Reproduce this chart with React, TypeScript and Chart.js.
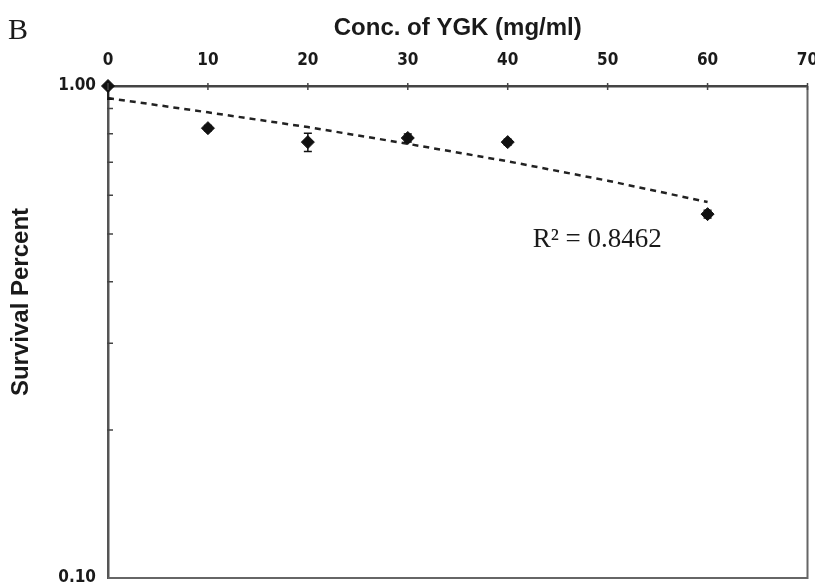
import React, { useEffect, useRef } from 'react';
import { Chart, registerables } from 'chart.js';

Chart.register(...registerables);

// ---- data ----
const concentrations = [0, 10, 20, 30, 40, 60];
const survival = [1.0, 0.821, 0.769, 0.784, 0.769, 0.549];
const survivalErr = [0.06, 0.01, 0.033, 0.015, 0.01, 0.01];
const trendX = [0, 10, 20, 30, 40, 50, 60];
const trendY = [0.945, 0.884, 0.825, 0.763, 0.703, 0.642, 0.581];
const xTickValues = [0, 10, 20, 30, 40, 50, 60, 70];
const yLabelTicks = [0.1, 1.0];
const yMinorTicks = [0.2, 0.3, 0.4, 0.5, 0.6, 0.7, 0.8, 0.9];
const panelLabel = 'B';
const xTitle = 'Conc. of YGK (mg/ml)';
const yTitle = 'Survival Percent';
const r2Label = 'R\u00B2 = 0.8462';
const r2Anchor = { x: 42.5, y: 0.47 };

const AXIS = '#444';
const TEXT = '#1a1a1a';
const TICK_FONT = '"DejaVu Sans Condensed", "Liberation Sans", sans-serif';

const decorPlugin = {
  id: 'decor',
  afterDatasetsDraw(chart: any) {
    const { ctx, chartArea, scales } = chart;
    const xs = scales.x;
    const ys = scales.y;
    ctx.save();
    ctx.beginPath();
    ctx.rect(chartArea.left - 1, chartArea.top, chartArea.right - chartArea.left + 2, chartArea.bottom - chartArea.top);
    ctx.clip();
    ctx.strokeStyle = '#111';
    ctx.lineWidth = 1.5;
    concentrations.forEach((c, i) => {
      const px = xs.getPixelForValue(c);
      const hi = ys.getPixelForValue(survival[i] + survivalErr[i]);
      const lo = ys.getPixelForValue(survival[i] - survivalErr[i]);
      ctx.beginPath();
      ctx.moveTo(px, hi);
      ctx.lineTo(px, lo);
      ctx.moveTo(px - 4, hi);
      ctx.lineTo(px + 4, hi);
      ctx.moveTo(px - 4, lo);
      ctx.lineTo(px + 4, lo);
      ctx.stroke();
    });
    ctx.restore();
  },
  afterDraw(chart: any) {
    const { ctx, chartArea, scales } = chart;
    const xs = scales.x;
    const ys = scales.y;
    ctx.save();
    ctx.strokeStyle = '#666';
    ctx.lineWidth = 2;
    ctx.beginPath();
    ctx.moveTo(chartArea.right, chartArea.top);
    ctx.lineTo(chartArea.right, chartArea.bottom);
    ctx.lineTo(chartArea.left, chartArea.bottom);
    ctx.stroke();
    ctx.strokeStyle = AXIS;
    ctx.lineWidth = 1.5;
    ctx.beginPath();
    xTickValues.forEach((v) => {
      const px = xs.getPixelForValue(v);
      ctx.moveTo(px, chartArea.top - 3);
      ctx.lineTo(px, chartArea.top + 4);
    });
    yMinorTicks.forEach((v) => {
      const py = ys.getPixelForValue(v);
      ctx.moveTo(chartArea.left - 1, py);
      ctx.lineTo(chartArea.left + 5, py);
    });
    ctx.stroke();

    ctx.fillStyle = TEXT;
    ctx.font = '30px "Liberation Serif", serif';
    ctx.textAlign = 'left';
    ctx.textBaseline = 'middle';
    ctx.fillText(panelLabel, 8, 31);

    ctx.font = 'bold 24px "Liberation Sans", Arial, sans-serif';
    ctx.textAlign = 'center';
    ctx.textBaseline = 'middle';
    ctx.fillText(xTitle, (chartArea.left + chartArea.right) / 2, 28);

    ctx.save();
    ctx.translate(21, 302);
    ctx.rotate(-Math.PI / 2);
    ctx.font = 'bold 24px "Liberation Sans", Arial, sans-serif';
    ctx.fillText(yTitle, 0, 0);
    ctx.restore();

    ctx.font = '27px "Liberation Serif", serif';
    ctx.textAlign = 'left';
    ctx.textBaseline = 'alphabetic';
    ctx.fillText(r2Label, xs.getPixelForValue(r2Anchor.x), ys.getPixelForValue(r2Anchor.y));
    ctx.restore();
  },
};

export default function App() {
  const ref = useRef<HTMLCanvasElement | null>(null);
  useEffect(() => {
    if (!ref.current) return;
    const chart = new Chart(ref.current, {
      type: 'scatter',
      data: {
        datasets: [
          {
            label: 'Survival',
            data: concentrations.map((c, i) => ({ x: c, y: survival[i] })),
            pointStyle: 'rectRot',
            pointRadius: 6.5,
            backgroundColor: '#111',
            borderColor: '#111',
            showLine: false,
            clip: false,
            order: 1,
          },
          {
            label: 'Trend',
            data: trendX.map((c, i) => ({ x: c, y: trendY[i] })),
            showLine: true,
            pointRadius: 0,
            borderColor: '#222',
            borderWidth: 2.5,
            borderDash: [6, 5],
            fill: false,
            order: 2,
          },
        ],
      },
      options: {
        responsive: false,
        animation: false,
        devicePixelRatio: 1,
        layout: { padding: { left: 0, top: 0, right: 7, bottom: 10 } },
        plugins: { legend: { display: false }, tooltip: { enabled: false } },
        scales: {
          x: {
            type: 'linear',
            position: 'top',
            min: 0,
            max: 70,
            afterBuildTicks: (s: any) => {
              s.ticks = xTickValues.map((v) => ({ value: v }));
            },
            afterFit: (s: any) => {
              s.height = 86;
              s.paddingLeft = 0;
              s.paddingRight = 0;
            },
            grid: { display: false },
            border: { display: true, color: AXIS, width: 2.5 },
            ticks: {
              padding: 7,
              color: TEXT,
              font: { family: TICK_FONT, size: 17, weight: 'bold' },
              maxRotation: 0,
            },
          },
          y: {
            type: 'logarithmic',
            min: 0.1,
            max: 1.0,
            afterBuildTicks: (s: any) => {
              s.ticks = yLabelTicks.map((v) => ({ value: v }));
            },
            afterFit: (s: any) => {
              s.width = 108;
              s.paddingTop = 0;
              s.paddingBottom = 0;
            },
            grid: { display: false },
            border: { display: true, color: '#555', width: 2.5 },
            ticks: {
              padding: 4,
              color: TEXT,
              font: { family: TICK_FONT, size: 17, weight: 'bold' },
              callback: (v: any) => Number(v).toFixed(2),
            },
          },
        },
      },
      plugins: [decorPlugin],
    });
    return () => chart.destroy();
  }, []);
  return (
    <canvas
      ref={ref}
      width={815}
      height={588}
      style={{ position: 'absolute', left: 0, top: 0, width: 815, height: 588 }}
    />
  );
}
